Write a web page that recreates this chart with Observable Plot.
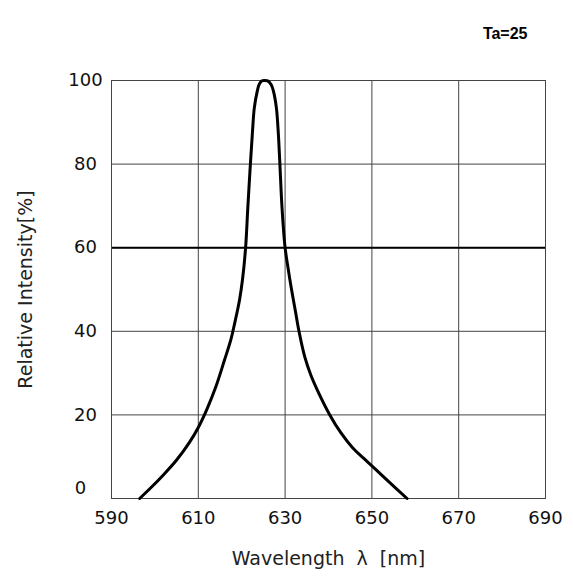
<!DOCTYPE html>
<html>
<head>
<meta charset="utf-8">
<script src="https://cdn.jsdelivr.net/npm/d3@7"></script>
<script src="https://cdn.jsdelivr.net/npm/@observablehq/plot@0.6"></script>
<style>
  html, body { margin: 0; padding: 0; background: #fff; }
  #chart { width: 573px; height: 577px; }
</style>
</head>
<body>
<div id="chart"></div>
<script>
const wavelength = [596.5, 599, 602, 605, 608, 610, 612, 614, 616, 617.5, 618.5, 619.5, 620.2, 620.9, 621.4, 622.0, 622.5, 622.9, 623.6, 624.0, 624.6, 625.3, 626.0, 626.8, 627.3, 628.0, 628.4, 628.8, 629.3, 630.0, 630.7, 631.4, 632.4, 633.2, 634.5, 635.9, 637.4, 640.3, 642.8, 645.5, 648.0, 650.0, 654.0, 658.1];
const intensity  = [0, 2.5, 5.7, 9.2, 13.5, 17, 21.4, 26.6, 33, 38, 42.5, 47.5, 52.5, 60, 69.4, 80, 88, 93.4, 97.5, 99, 99.9, 100, 99.9, 99, 97.5, 93.4, 88, 80, 69.4, 60, 55.0, 50.5, 44.7, 40, 34.0, 29.6, 26.0, 20, 15.8, 12.2, 9.7, 7.8, 3.9, 0];
const xTicks = [590, 610, 630, 650, 670, 690];
const yTicks = [0, 20, 40, 60, 80, 100];
const yTicksUpper = [20, 40, 60, 80, 100];
const yTickZero = [0];
const heavyLine = [60];
const annotation = ["Ta=25"];

const data = wavelength.map((w, i) => ({w, v: intensity[i]}));

const chart = Plot.plot({
  width: 573,
  height: 577,
  marginLeft: 111,
  marginRight: 28,
  marginTop: 80,
  marginBottom: 79,
  style: {fontFamily: "'DejaVu Sans', sans-serif", fontSize: "18px", color: "#111", background: "#fff"},
  x: {domain: [590, 690], label: "Wavelength  λ  [nm]"},
  y: {domain: [0, 100], label: "Relative Intensity[%]"},
  marks: [
    Plot.gridX(xTicks, {stroke: "#444", strokeOpacity: 1, strokeWidth: 1}),
    Plot.gridY(yTicks, {stroke: "#444", strokeOpacity: 1, strokeWidth: 1}),
    Plot.ruleY(heavyLine, {stroke: "#000", strokeWidth: 2}),
    Plot.frame({stroke: "#444", strokeWidth: 1}),
    Plot.axisX(xTicks, {tickSize: 0, tickPadding: 13, fontSize: 18, label: "Wavelength  λ  [nm]", labelAnchor: "center", labelOffset: 66, labelArrow: "none"}),
    Plot.axisY(yTicksUpper, {tickSize: 0, tickPadding: 26, textAnchor: "middle", fontSize: 18, label: "Relative Intensity[%]", labelAnchor: "center", labelOffset: 93, labelArrow: "none"}),
    Plot.axisY(yTickZero, {tickSize: 0, tickPadding: 31, textAnchor: "middle", fontSize: 18, dy: -10, label: null}),
    Plot.line(data, {x: "w", y: "v", curve: "catmull-rom", stroke: "#000", strokeWidth: 3}),
    Plot.text(annotation, {text: d => d, frameAnchor: "top-right", dx: -18, dy: -53, fontWeight: "bold", fontSize: 16, fill: "#000", fontFamily: "'Liberation Sans', Arial, sans-serif"})
  ]
});
chart.querySelectorAll("[aria-label='x-axis label'] text, [aria-label='y-axis label'] text").forEach(t => {
  t.style.fontSize = "19px";
  t.style.whiteSpace = "pre";
  t.setAttribute("fill", "#222");
});
document.getElementById("chart").appendChild(chart);
</script>
</body>
</html>
